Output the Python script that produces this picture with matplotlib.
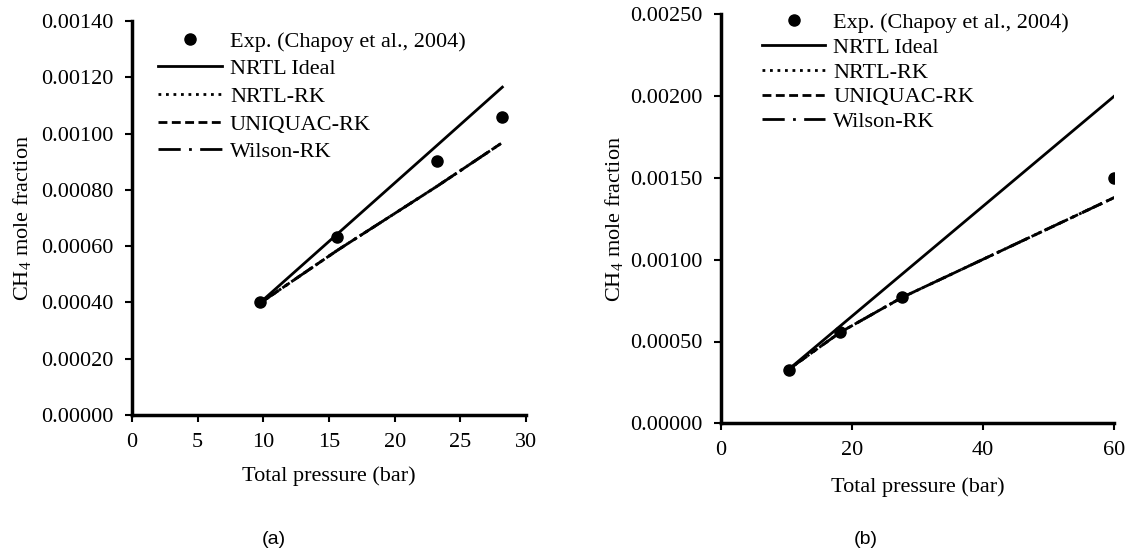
import matplotlib
matplotlib.use("Agg")
import matplotlib.pyplot as plt
from matplotlib.ticker import FormatStrFormatter

plt.rcParams["font.family"] = ["Liberation Serif", "DejaVu Serif"]
plt.rcParams["font.size"] = 16
plt.rcParams["mathtext.fontset"] = "custom"
plt.rcParams["mathtext.rm"] = "Liberation Serif"

# (a) data
p_exp_a = [9.77, 15.63, 23.2, 28.2]
x_exp_a = [0.000400, 0.000632, 0.000901, 0.001060]
p_mod_a = [9.77, 15.63, 23.2, 28.2]
nrtl_ideal_a = [0.000400, 0.000643, 0.000957, 0.001165]
nrtl_rk_a = [0.000398, 0.000585, 0.000812, 0.000968]
uniquac_rk_a = [0.000398, 0.000585, 0.000812, 0.000968]
wilson_rk_a = [0.000398, 0.000585, 0.000812, 0.000968]

# (b) data
p_exp_b = [10.4, 18.2, 27.7, 60.0]
x_exp_b = [0.000326, 0.000560, 0.000774, 0.001497]
p_mod_b = [10.4, 18.2, 27.7, 60.0]
nrtl_ideal_b = [0.000330, 0.000593, 0.000913, 0.002000]
nrtl_rk_b = [0.000330, 0.000555, 0.000770, 0.001380]
uniquac_rk_b = [0.000330, 0.000555, 0.000770, 0.001380]
wilson_rk_b = [0.000330, 0.000555, 0.000770, 0.001380]

labels = ["Exp. (Chapoy et al., 2004)", "NRTL Ideal", "NRTL-RK", "UNIQUAC-RK", "Wilson-RK"]

W, H = 1131, 554
fig = plt.figure(figsize=(W / 100, H / 100), dpi=100)
ax1 = fig.add_axes([132 / W, (H - 415) / H, 394 / W, 394 / H])
ax2 = fig.add_axes([720.5 / W, (H - 423.3) / H, 393.8 / W, 409 / H])


def draw(ax, p_exp, x_exp, p_mod, ideal, nrtl, uniq, wils):
    ax.plot(p_exp, x_exp, "o", color="black", ms=8, ls="none", label=labels[0], zorder=5)
    ax.plot(p_mod, ideal, color="black", lw=2, label=labels[1])
    ax.plot(p_mod, nrtl, color="black", lw=2, ls=(0, (1, 1.7)), label=labels[2])
    ax.plot(p_mod, uniq, color="black", lw=2, ls=(0, (3.2, 1.6)), label=labels[3])
    ax.plot(p_mod, wils, color="black", lw=2, ls=(0, (8, 3, 1, 3)), label=labels[4])
    for s in ["top", "right"]:
        ax.spines[s].set_visible(False)
    for s in ["left", "bottom"]:
        ax.spines[s].set_linewidth(2.5)
    ax.tick_params(direction="out", length=5, width=1.5, labelsize=16, pad=8)
    ax.yaxis.set_major_formatter(FormatStrFormatter("%.5f"))
    ax.set_xlabel("Total pressure (bar)")
    ax.set_ylabel("CH$_4$ mole fraction")


draw(ax1, p_exp_a, x_exp_a, p_mod_a, nrtl_ideal_a, nrtl_rk_a, uniquac_rk_a, wilson_rk_a)
ax1.set_xlim(0, 30)
ax1.set_ylim(0, 0.0014)
ax1.set_xticks(range(0, 31, 5))
ax1.set_yticks([i * 0.0002 for i in range(8)])
ax1.xaxis.labelpad = 10
ax1.yaxis.labelpad = 5.5

draw(ax2, p_exp_b, x_exp_b, p_mod_b, nrtl_ideal_b, nrtl_rk_b, uniquac_rk_b, wilson_rk_b)
ax2.set_xlim(0, 60)
ax2.set_ylim(0, 0.0025)
ax2.set_xticks([0, 20, 40, 60])
ax2.set_yticks([i * 0.0005 for i in range(6)])
ax2.xaxis.labelpad = 12
ax2.yaxis.labelpad = 3

ax1.legend(loc="upper left", bbox_to_anchor=(158 / W, (H - 31) / H), bbox_transform=fig.transFigure,
           frameon=False, borderpad=0, borderaxespad=0, handlelength=2.88, handletextpad=0.36,
           labelspacing=0.32, fontsize=16)
ax2.legend(loc="upper left", bbox_to_anchor=(762 / W, (H - 12.5) / H), bbox_transform=fig.transFigure,
           frameon=False, borderpad=0, borderaxespad=0, handlelength=2.85, handletextpad=0.36,
           labelspacing=0.19, fontsize=16)

fig.text(274 / W, (H - 540) / H, "(a)", ha="center", va="center", fontsize=14, family="Liberation Sans")
fig.text(866 / W, (H - 540) / H, "(b)", ha="center", va="center", fontsize=14, family="Liberation Sans")

fig.savefig("out.png", dpi=100)
